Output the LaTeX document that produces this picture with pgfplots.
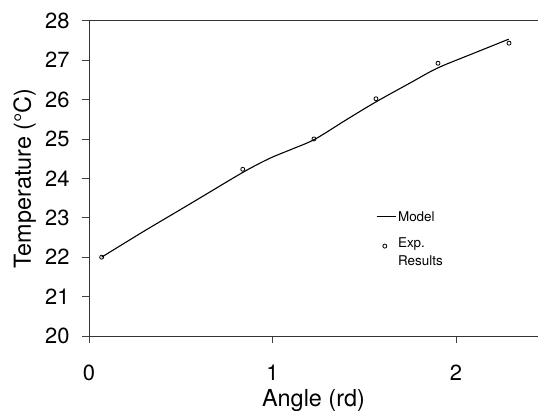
\documentclass[border=0pt]{standalone}
\usepackage{pgfplots}
\pgfplotsset{compat=1.18}
\usepackage{fontspec}
\setmainfont{TeX Gyre Heros}
\pgfplotsset{
  shortline/.style={legend image code/.code={\draw[##1] (0bp,0bp)--(19bp,0bp);}},
  raisedmark/.style={legend image code/.code={\draw[##1, only marks] plot coordinates {(8.3bp,6bp)};}},
}

\begin{document}
\begin{tikzpicture}
\begin{axis}[
  scale only axis, width=449bp, height=315.3bp,
  xmin=0, xmax=2.447, ymin=20, ymax=28,
  axis x line=box, axis y line=left,
  axis line style={-, line width=0.8bp, black!80},
  xtick pos=bottom, ytick pos=left,
  xtick={0,1,2}, ytick={20,21,...,28},
  tick align=outside, major tick length=7bp,
  tick style={line width=0.7bp, black!75},
  /pgf/number format/assume math mode=true,
  ticklabel style={font=\fontsize{22}{26}\selectfont},
  xticklabel shift=18bp, yticklabel shift=9bp,
  label style={font=\fontsize{23.5}{28}\selectfont},
  xlabel={Angle (rd)}, ylabel={Temperature (°C)},
  xlabel style={at={(rel axis cs:0.5,0)}, anchor=base, yshift=-70.5bp},
  ylabel style={at={([xshift=-58bp]rel axis cs:0,0.5)}, anchor=base, rotate=0},
  legend style={draw=none, fill=none, at={(rel axis cs:0.632,0.409)}, anchor=north west,
    font=\fontsize{13.5}{18}\selectfont, row sep=11bp},
  legend cell align=left,
]
\addplot[black, line width=1.1bp, smooth, shortline]
  coordinates {(0.069,22.0) (0.30,22.66) (0.55,23.35) (0.838,24.15) (0.986,24.51) (1.10,24.73)
    (1.23,24.99) (1.40,25.48) (1.564,25.94) (1.75,26.42) (1.9,26.80) (2.10,27.18) (2.287,27.53)};
\addlegendentry{Model}
\addplot[black, only marks, mark=o, mark size=2bp, mark options={line width=0.8bp}, raisedmark]
  coordinates {(0.069,22.0) (0.838,24.23) (1.226,25.0) (1.564,26.02) (1.902,26.92) (2.289,27.43)};
\addlegendentry[align=left]{Exp.\\Results}
\end{axis}
\pgfresetboundingbox
\path ([xshift=-89bp, yshift=-75bp]current axis.south west) rectangle ([yshift=20.7bp]current axis.north east);
\end{tikzpicture}
\end{document}
